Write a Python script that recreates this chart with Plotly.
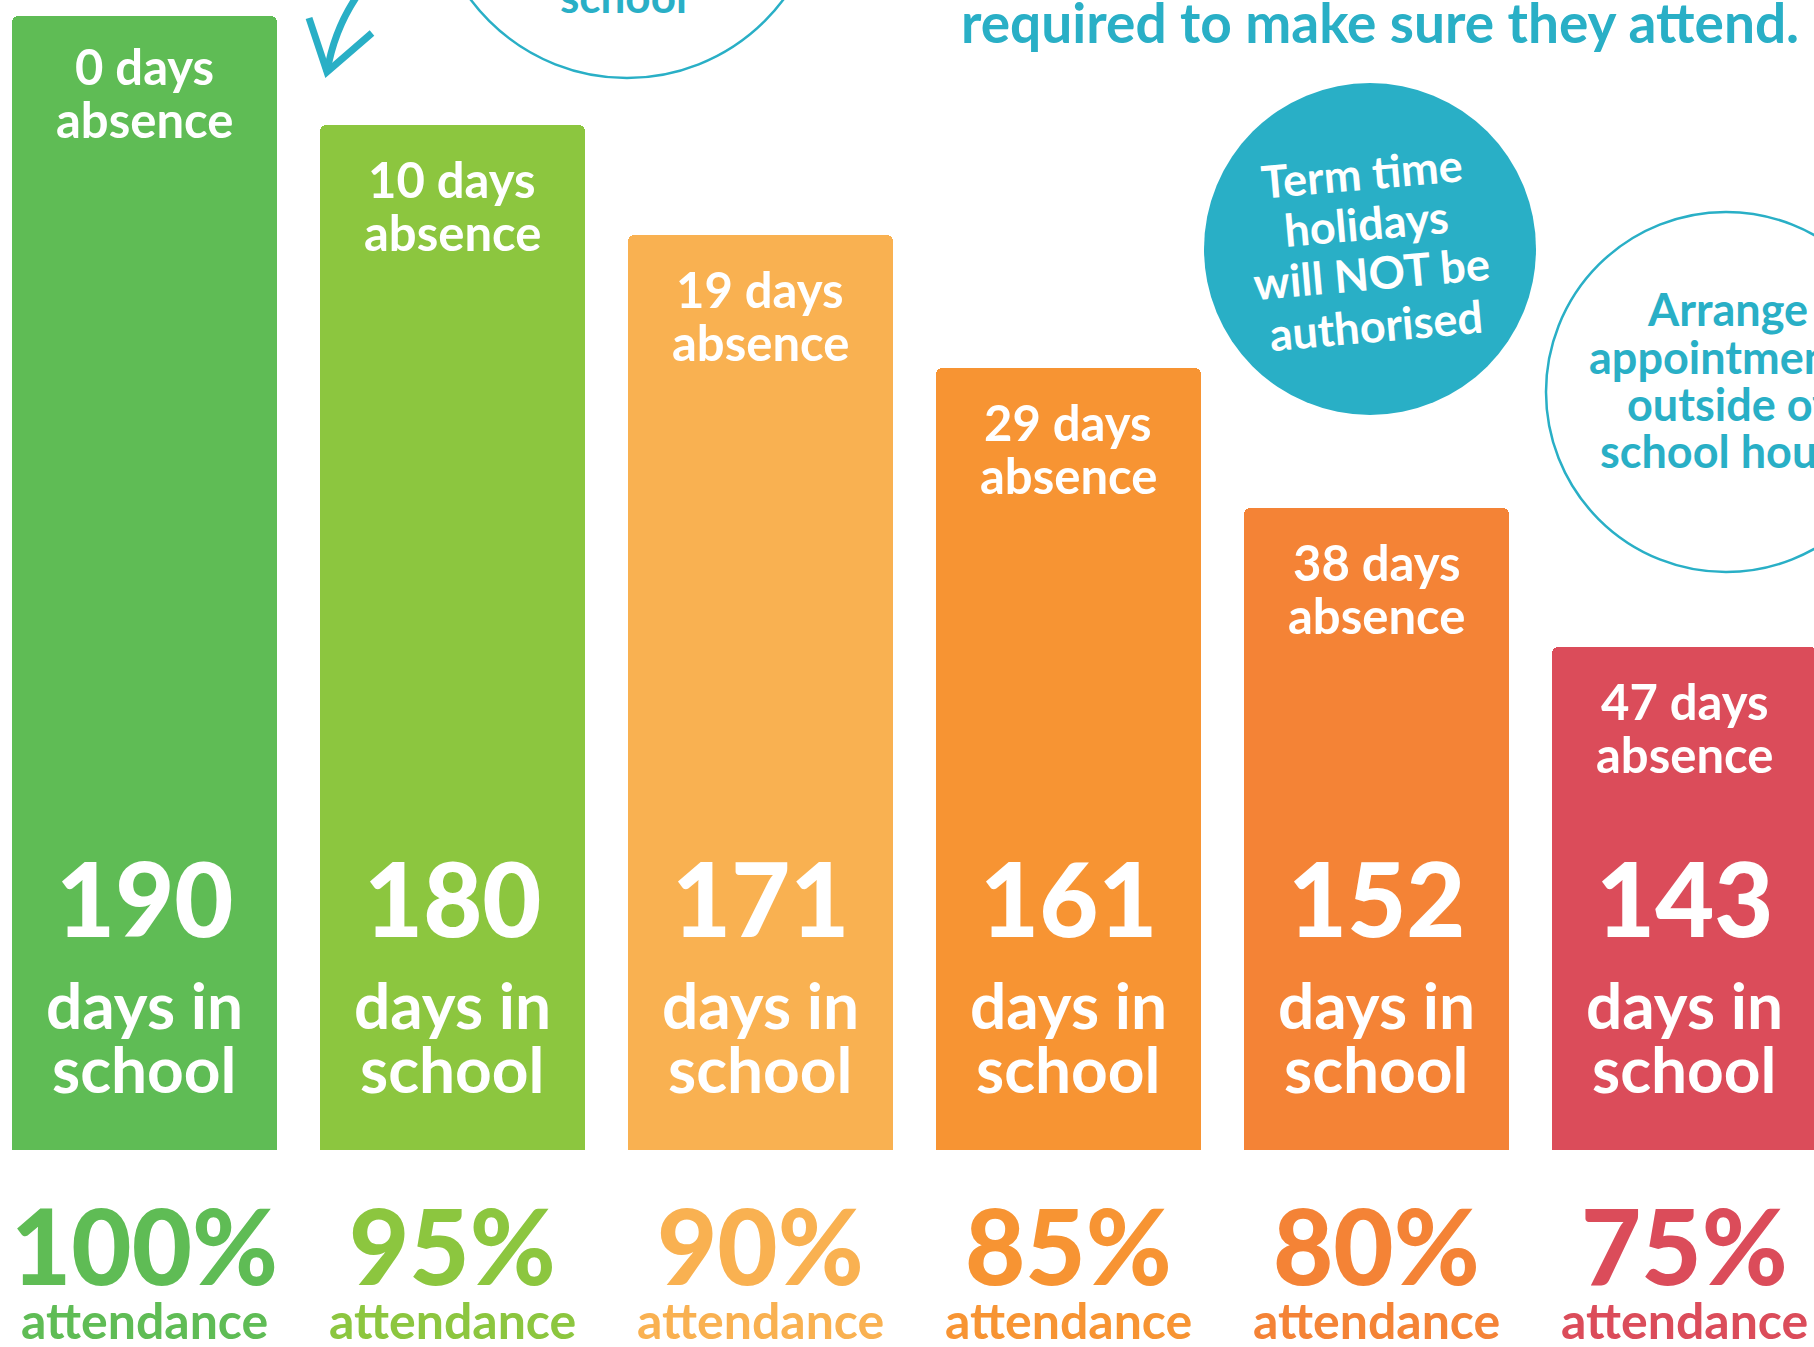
import plotly.graph_objects as go

# ---------------- data ----------------
attendance_pct = [100, 95, 90, 85, 80, 75]
days_absent = [0, 10, 19, 29, 38, 47]
days_in_school = [190, 180, 171, 161, 152, 143]
# relative bar heights as drawn in the infographic (tallest = 100)
bar_height = [100, 90.4, 80.7, 69.0, 56.6, 44.4]
bar_colors = ["#5FBC55", "#8CC63F", "#F9B151", "#F79433", "#F48336", "#DB4C5A"]
categories = [f"{p}%" for p in attendance_pct]

TEAL = "#29AFC6"
W, H = 1814, 1347
FONT = "Lato"


def X(px):
    return px / W


def Y(py):
    return 1 - py / H


fig = go.Figure()
fig.add_trace(go.Bar(
    x=categories, y=bar_height,
    marker=dict(color=bar_colors, line=dict(width=0), cornerradius=6),
    width=0.86, hoverinfo="skip", showlegend=False,
))

ann = []


def txt(text, x, y, size, color, xref="x", yref="y", yshift=0, angle=0,
        xanchor="center", weight=700):
    ann.append(dict(text=text, x=x, y=y, xref=xref, yref=yref, yshift=yshift,
                    showarrow=False, xanchor=xanchor, yanchor="middle", textangle=angle,
                    font=dict(family=FONT, size=size, color=color, weight=weight)))


for i, (cat, d, s, p, h, c) in enumerate(zip(categories, days_absent, days_in_school,
                                             attendance_pct, bar_height, bar_colors)):
    off = 0 if i == 0 else -4
    txt(f"{d} days", cat, h, 49, "white", yshift=-50 + off)
    txt("absence", cat, h, 49, "white", yshift=-103 + off)
    txt(str(s), cat, 0, 102, "white", yshift=253, weight=900)
    txt("days in", cat, 0, 64, "white", yshift=146)
    txt("school", cat, 0, 64, "white", yshift=82)
    txt(f"{p}%", cat, 0, 104, c, yshift=-94, weight=900)
    txt("attendance", cat, 0, 50, c, yshift=-170)

# top-right heading line
txt("required to make sure they attend.", X(1380), Y(22), 55, TEAL, xref="paper", yref="paper")
# text of circle at top left (cut off)
txt("school", X(623), Y(-4), 44, TEAL, xref="paper", yref="paper")

# filled teal circle text (slightly rotated)
for line, (cx, cy) in zip(["Term time", "holidays", "will NOT be", "authorised"],
                          [(1362, 173), (1366, 223), (1371, 273), (1376, 325)]):
    txt(line, X(cx), Y(cy), 45, "white", xref="paper", yref="paper", angle=-5)

# outline circle text (cut off at right)
for line, cy in zip(["Arrange", "appointments", "outside of", "school hours"],
                    [309, 357, 404, 451]):
    txt(line, X(1727), Y(cy), 45, TEAL, xref="paper", yref="paper")

shapes = []


def circle(cx, cy, r, fill=None, lw=0):
    shapes.append(dict(type="circle", xref="paper", yref="paper",
                       x0=X(cx - r), x1=X(cx + r), y0=Y(cy + r), y1=Y(cy - r),
                       fillcolor=fill if fill else "rgba(0,0,0,0)",
                       line=dict(color=TEAL, width=lw), layer="below"))


circle(627, -117, 195, lw=2.5)
circle(1370, 249, 166, fill=TEAL, lw=0)
circle(1726, 392, 180, lw=2.5)

# hand-drawn arrow
shaft = f"M {X(357)} {Y(-4)} Q {X(334)} {Y(30)} {X(327)} {Y(72)}"
head = f"M {X(309)} {Y(18)} L {X(327)} {Y(72)} L {X(372)} {Y(33)}"
for p in (shaft, head):
    shapes.append(dict(type="path", xref="paper", yref="paper", path=p,
                       line=dict(color=TEAL, width=7)))

fig.update_layout(
    width=W, height=H,
    margin=dict(l=0, r=0, t=0, b=0),
    paper_bgcolor="white", plot_bgcolor="white",
    xaxis=dict(range=[-0.4677, 5.420], visible=False, fixedrange=True),
    yaxis=dict(range=[-17.37, 101.41], visible=False, fixedrange=True),
    annotations=ann, shapes=shapes,
    hovermode=False, bargap=0,
)

fig.write_html(
    "out.html",
    config={"displayModeBar": False},
    post_script="document.body.style.margin='0';document.body.style.overflow='hidden';",
)
